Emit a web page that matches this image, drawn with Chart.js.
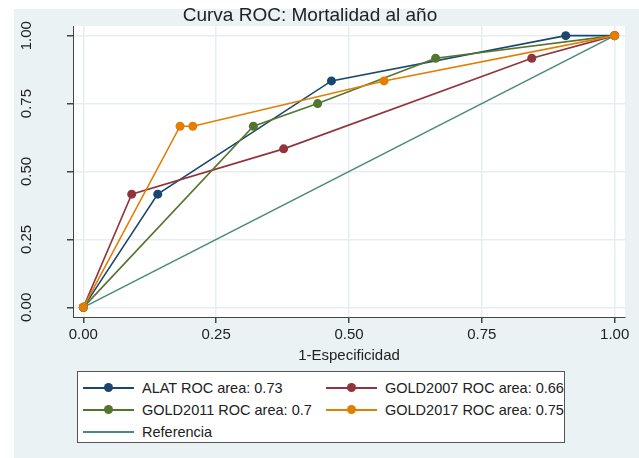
<!DOCTYPE html>
<html>
<head>
<meta charset="utf-8">
<script src="https://cdn.jsdelivr.net/npm/chart.js@4"></script>
<style>
  html, body { margin:0; padding:0; background:#ffffff; }
  #wrap { position:relative; width:639px; height:458px; overflow:hidden; font-family:"Liberation Sans", Arial, sans-serif; }
  #bg { position:absolute; left:14px; top:9px; right:0; bottom:0; background:#eaf2f3; }
  #c { position:absolute; left:0; top:0; }
  #title { position:absolute; left:110px; width:400px; top:4px; text-align:center; font-size:19px; color:#222; white-space:nowrap; }
  #legend { position:absolute; left:77px; top:371px; width:486px; height:70px; background:#fff; border:1px solid #555; font-size:14.5px; color:#222; }
  .item { position:absolute; height:20px; display:flex; align-items:center; white-space:nowrap; }
  .sample { position:relative; width:51px; height:20px; margin-right:8px; }
  .sample .ln { position:absolute; left:0; right:0; top:9px; height:2px; }
  .sample .dt { position:absolute; left:21px; top:5px; width:9px; height:9px; border-radius:50%; }
</style>
</head>
<body>
<div id="wrap">
  <div id="bg"></div>
  <canvas id="c" width="639" height="458"></canvas>
  <div id="title">Curva ROC: Mortalidad al año</div>
  <div id="legend"></div>
</div>
<script>
// ---- data ----
const chartTitle = "Curva ROC: Mortalidad al año";
const xAxisTitle = "1-Especificidad";
const tickValues = [0, 0.25, 0.5, 0.75, 1];
const tickLabels = ["0.00", "0.25", "0.50", "0.75", "1.00"];

const seriesNames = ["ALAT ROC area: 0.73", "GOLD2007 ROC area: 0.66", "GOLD2011 ROC area: 0.7", "GOLD2017 ROC area: 0.75", "Referencia"];

const alatX = [0, 0.140, 0.467, 0.908, 1];
const alatY = [0, 0.4167, 0.8333, 1, 1];

const gold2007X = [0, 0.091, 0.377, 0.844, 1];
const gold2007Y = [0, 0.4167, 0.5833, 0.9167, 1];

const gold2011X = [0, 0.320, 0.441, 0.663, 1];
const gold2011Y = [0, 0.6667, 0.75, 0.9167, 1];

const gold2017X = [0, 0.182, 0.206, 0.566, 1];
const gold2017Y = [0, 0.6667, 0.6667, 0.8333, 1];

const refX = [0, 1];
const refY = [0, 1];

// ---- styles ----
const colors = ["#1a476f", "#90353b", "#55752f", "#e37e00", "#4a8a7a"];
const showMarkers = [true, true, true, true, false];

function toPoints(xs, ys) { return xs.map((x, i) => ({ x: x, y: ys[i] })); }
const seriesX = [alatX, gold2007X, gold2011X, gold2017X, refX];
const seriesY = [alatY, gold2007Y, gold2011Y, gold2017Y, refY];

const datasets = seriesNames.map((name, i) => ({
  label: name,
  data: toPoints(seriesX[i], seriesY[i]),
  borderColor: colors[i],
  backgroundColor: colors[i],
  borderWidth: 1.6,
  pointRadius: showMarkers[i] ? 4.5 : 0,
  pointHoverRadius: showMarkers[i] ? 4.5 : 0,
  pointBorderWidth: 0,
  showLine: true,
  tension: 0,
  order: i === 4 ? 10 : 4 - i
}));

document.getElementById('title').textContent = chartTitle;

const FONT = '"Liberation Sans", Arial, sans-serif';

const bgPlugin = {
  id: 'bgPlugin',
  beforeDraw(chart) {
    const { ctx, chartArea: a } = chart;
    ctx.save();
    ctx.fillStyle = '#ffffff';
    ctx.fillRect(a.left, a.top, a.right - a.left, a.bottom - a.top);
    ctx.restore();
  },
  afterDraw(chart) {
    const { ctx } = chart;
    const ys = chart.scales.y;
    ctx.save();
    ctx.fillStyle = '#222';
    ctx.font = '15px ' + FONT;
    ctx.textAlign = 'center';
    ctx.textBaseline = 'middle';
    tickValues.forEach((v, i) => {
      const py = ys.getPixelForValue(v);
      ctx.save();
      ctx.translate(ys.left - 2, py);
      ctx.rotate(-Math.PI / 2);
      ctx.fillText(tickLabels[i], 0, -38);
      ctx.restore();
    });
    ctx.restore();
  }
};

const setTicks = (scale) => { scale.ticks = tickValues.map(v => ({ value: v })); };

new Chart(document.getElementById('c'), {
  type: 'scatter',
  data: { datasets: datasets },
  options: {
    responsive: false,
    animation: false,
    events: [],
    layout: { padding: { left: 67, right: 14, top: 26, bottom: 91 } },
    plugins: { legend: { display: false }, title: { display: false }, tooltip: { enabled: false } },
    scales: {
      x: {
        type: 'linear',
        min: -0.0195, max: 1.0195,
        afterBuildTicks: setTicks,
        grid: { color: '#e6eef0', lineWidth: 1.5, tickColor: '#444', tickLength: 6, drawTicks: true },
        border: { color: '#444', width: 1 },
        ticks: { color: '#222', font: { size: 15, family: FONT }, padding: 3, callback: (v) => tickLabels[tickValues.indexOf(v)] },
        title: { display: true, text: xAxisTitle, color: '#222', font: { size: 15, family: FONT }, padding: { top: 0, bottom: 2 } }
      },
      y: {
        type: 'linear',
        min: -0.0355, max: 1.0355,
        afterBuildTicks: setTicks,
        grid: { color: '#e6eef0', lineWidth: 1.5, tickColor: '#444', tickLength: 6, drawTicks: true },
        border: { color: '#444', width: 1 },
        ticks: { display: false }
      }
    }
  },
  plugins: [bgPlugin]
});

// ---- HTML legend ----
const legend = document.getElementById('legend');
const legendPos = [[5, 6], [248, 6], [5, 28], [248, 28], [5, 50]];
seriesNames.forEach((name, i) => {
  const it = document.createElement('div');
  it.className = 'item';
  it.style.left = legendPos[i][0] + 'px';
  it.style.top = legendPos[i][1] + 'px';
  const s = document.createElement('div');
  s.className = 'sample';
  const ln = document.createElement('div');
  ln.className = 'ln';
  ln.style.background = colors[i];
  s.appendChild(ln);
  if (showMarkers[i]) {
    const dt = document.createElement('div');
    dt.className = 'dt';
    dt.style.background = colors[i];
    s.appendChild(dt);
  }
  it.appendChild(s);
  const t = document.createElement('span');
  t.textContent = name;
  it.appendChild(t);
  legend.appendChild(it);
});
</script>
</body>
</html>
